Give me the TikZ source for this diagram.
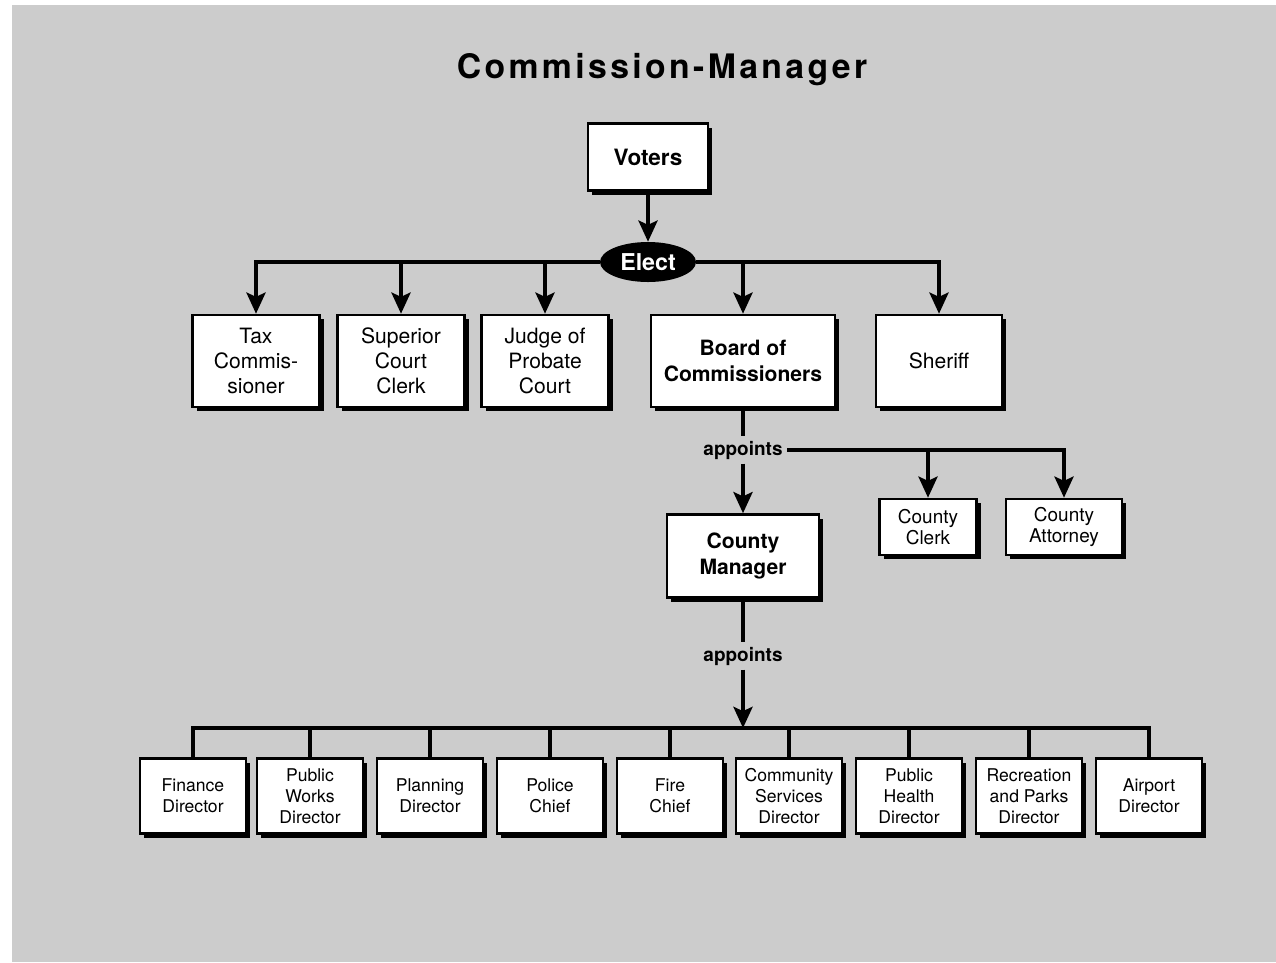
\documentclass[tikz,border=0pt]{standalone}
\usepackage{fontspec}
\setmainfont{TeX Gyre Heros}
\newfontfamily\titlefont[LetterSpace=10]{TeX Gyre Heros}
\usetikzlibrary{arrows.meta,shadows,shapes.geometric}
\definecolor{bggray}{HTML}{CCCCCC}
\newcommand{\fs}[2]{\fontsize{#1}{#2}\selectfont}

\begin{document}
\begin{tikzpicture}[x=0.025cm, y=-0.025cm,
	box/.style={draw, line width=1.8pt, fill=white, align=center, inner sep=1pt,
		drop shadow={fill=black, opacity=1, shadow xshift=3pt, shadow yshift=-3pt}},
	conn/.style={line width=2.8pt},
	arr/.style={conn, -{Stealth[length=15pt, width=13.5pt, inset=3pt]}},
	reg/.style={font={\fs{15}{17.7}}},
	bold/.style={font={\fs{15}{18}\bfseries}},
	small/.style={font={\fs{13.5}{15}}},
	low/.style={box, font={\fs{12.5}{15}}, minimum width=2.65cm, minimum height=1.875cm},
	label/.style={font={\fs{13.5}{16}\bfseries}, inner sep=3pt}]
			% Background
			\useasboundingbox (0,0) rectangle (1276,962);
			\fill[bggray] (12,5) rectangle (1276,962);

			% Title
			\node (title) at (662,70) {\titlefont\fs{24}{28}\bfseries Commission-Manager};

			% Voters and elected offices
			\node[box, font={\fs{16}{19}\bfseries}, minimum width=3cm, minimum height=1.675cm] (voters) at (648,157) {Voters};
			\node[ellipse, fill=black, text=white, font={\fs{16.5}{19}\bfseries}, minimum width=2.4cm, minimum height=1cm, inner sep=0pt] (elect) at (648,262) {Elect};
			\node[box, reg, minimum width=3.175cm, minimum height=2.3cm] (tax) at (256,361) {Tax\\Commis-\\sioner};
			\node[box, reg, minimum width=3.175cm, minimum height=2.3cm] (superior) at (401,361) {Superior\\Court\\Clerk};
			\node[box, reg, minimum width=3.175cm, minimum height=2.3cm] (judge) at (545,361) {Judge of\\Probate\\Court};
			\node[box, bold, minimum width=4.6cm, minimum height=2.3cm] (board) at (743,361) {Board of\\Commissioners};
			\node[box, reg, minimum width=3.15cm, minimum height=2.3cm] (sheriff) at (939,361) {Sheriff};

			% Board appointments
			\node[label] (appA) at (743,450) {appoints};
			\node[box, small, minimum width=2.425cm, minimum height=1.4cm] (clerk) at (928,527) {County\\Clerk};
			\node[box, small, minimum width=2.9cm, minimum height=1.4cm] (attorney) at (1064,527) {County\\Attorney};
			\node[box, bold, minimum width=3.8cm, minimum height=2.075cm] (manager) at (743,556) {County\\Manager};

			% Manager appointments
			\node[label] (appB) at (743,656) {appoints};
			\coordinate (bus) at (743,728);
			\node[low] (finance) at (193,796) {Finance\\Director};
			\node[low] (works) at (310,796) {Public\\Works\\Director};
			\node[low] (planning) at (430,796) {Planning\\Director};
			\node[low] (police) at (550,796) {Police\\Chief};
			\node[low] (fire) at (670,796) {Fire\\Chief};
			\node[low] (community) at (789,796) {Community\\Services\\Director};
			\node[low] (health) at (909,796) {Public\\Health\\Director};
			\node[low] (recreation) at (1029,796) {Recreation\\and Parks\\Director};
			\node[low] (airport) at (1149,796) {Airport\\Director};

			% Connectors
			\draw[arr] (voters) -- (elect);
			\draw[arr] (elect) -| (tax.north);
			\draw[arr] (elect) -| (superior.north);
			\draw[arr] (elect) -| (judge.north);
			\draw[arr] (elect) -| (board.north);
			\draw[arr] (elect) -| (sheriff.north);
			\draw[conn] (board) -- (appA);
			\draw[arr] (appA) -- (manager);
			\draw[arr] (appA) -| (clerk.north);
			\draw[arr] (appA) -| (attorney.north);
			\draw[conn] (manager) -- (appB);
			\draw[arr] (appB) -- (bus);
			\draw[conn] (bus) -| (finance.north);
			\draw[conn] (bus) -| (airport.north);
			\foreach \n in {works,planning,police,fire,community,health,recreation}
				\draw[conn] (bus -| \n.north) -- (\n.north);
		\end{tikzpicture}
\end{document}
